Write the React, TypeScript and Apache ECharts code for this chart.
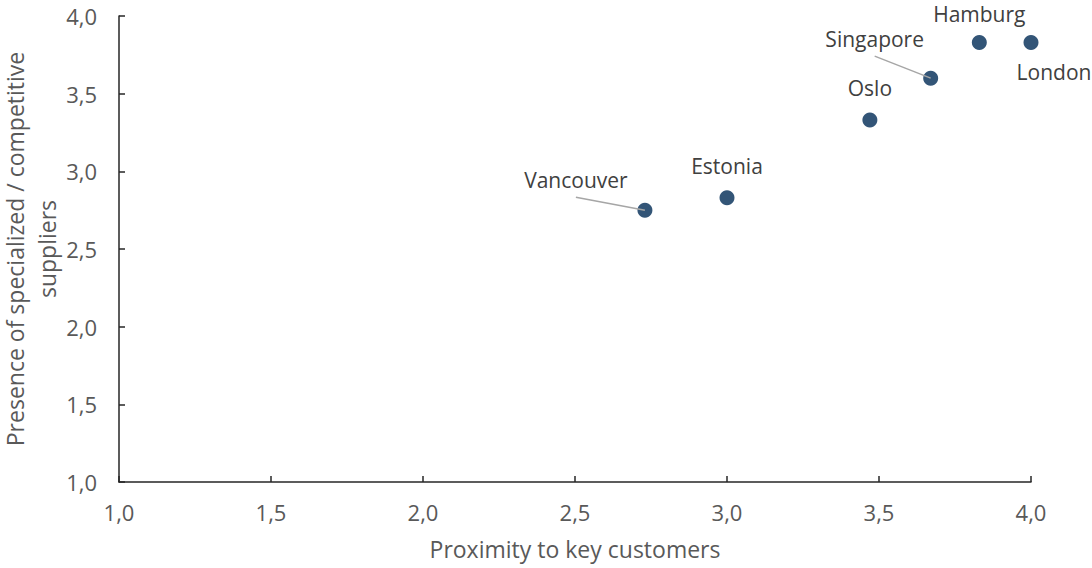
import React, { useEffect, useRef } from "react";
import * as echarts from "echarts";

// Cities and their scores
const cities = ["Vancouver", "Estonia", "Oslo", "Singapore", "Hamburg", "London"];
const proximityScores = [2.73, 3.0, 3.47, 3.67, 3.83, 4.0];
const supplierScores = [2.75, 2.83, 3.33, 3.6, 3.83, 3.83];
const axisTicks = [1.0, 1.5, 2.0, 2.5, 3.0, 3.5, 4.0];

// Label placement relative to each marker (dx, dy)
const labelOffsets: [number, number][] = [
  [-69, -30],
  [0, -32],
  [0, -32],
  [-56, -39],
  [0, -28],
  [23, 30],
];
// Leader lines: start point relative to the marker, null when the label sits close enough
const leaderStarts: ([number, number] | null)[] = [
  [-69, -13],
  null,
  null,
  [-56, -22],
  null,
  null,
];

const FONT = "'Open Sans', sans-serif";
const fmt = (v: number) => v.toFixed(1).replace(".", ",");

export default function App() {
  const ref = useRef<HTMLDivElement>(null);

  useEffect(() => {
    if (!ref.current) return;
    const chart = echarts.init(ref.current, undefined, { renderer: "svg" });
    const axisCommon = {
      min: axisTicks[0],
      max: axisTicks[axisTicks.length - 1],
      interval: axisTicks[1] - axisTicks[0],
      splitLine: { show: false },
      axisLine: { show: true, lineStyle: { color: "#262626", width: 1.5 } },
      axisTick: { show: true, inside: true, length: 6, lineStyle: { color: "#262626", width: 1.5 } },
      axisLabel: {
        color: "#595959",
        fontSize: 22,
        fontFamily: FONT,
        formatter: (v: number) => fmt(v),
      },
      nameMoveOverlap: false,
      nameTextStyle: { color: "#595959", fontSize: 23, fontFamily: FONT },
    };

    const leaderData = cities
      .map((_, i) => [proximityScores[i], supplierScores[i], i])
      .filter((d) => leaderStarts[d[2]] !== null);

    chart.setOption({
      animation: false,
      grid: {
        left: 119,
        right: 61,
        top: 16,
        bottom: 86,
        containLabel: false,
        outerBoundsMode: "none",
      },
      xAxis: {
        type: "value",
        ...axisCommon,
        axisLabel: { ...axisCommon.axisLabel, margin: 19 },
        name: "Proximity to key customers",
        nameLocation: "middle",
        nameGap: 55,
      },
      yAxis: {
        type: "value",
        ...axisCommon,
        axisLabel: { ...axisCommon.axisLabel, margin: 22 },
        name: "Presence of specialized / competitive\nsuppliers",
        nameLocation: "middle",
        nameGap: 56,
        nameTextStyle: { ...axisCommon.nameTextStyle, lineHeight: 32 },
      },
      series: [
        {
          type: "scatter",
          symbolSize: 15,
          z: 2,
          itemStyle: { color: "#335577", opacity: 1 },
          data: cities.map((name, i) => ({
            name,
            value: [proximityScores[i], supplierScores[i]],
          })),
          label: {
            show: true,
            position: "inside",
            formatter: (p: any) => p.name,
            color: "#404040",
            fontSize: 21,
            lineHeight: 22,
            fontFamily: FONT,
          },
          labelLayout: (p: any) => ({
            dx: labelOffsets[p.dataIndex][0],
            dy: labelOffsets[p.dataIndex][1],
          }),
        },
        {
          type: "custom",
          z: 3,
          silent: true,
          encode: { x: 0, y: 1 },
          data: leaderData,
          renderItem: (_params: any, api: any) => {
            const p = api.coord([api.value(0), api.value(1)]);
            const start = leaderStarts[api.value(2)] as [number, number];
            return {
              type: "line",
              shape: { x1: p[0] + start[0], y1: p[1] + start[1], x2: p[0], y2: p[1] },
              style: { stroke: "#a6a6a6", lineWidth: 1.5 },
            };
          },
        },
      ],
    });
    return () => chart.dispose();
  }, []);

  return (
    <div
      ref={ref}
      style={{ position: "absolute", left: 0, top: 0, width: 1092, height: 568, background: "#fff" }}
    />
  );
}
